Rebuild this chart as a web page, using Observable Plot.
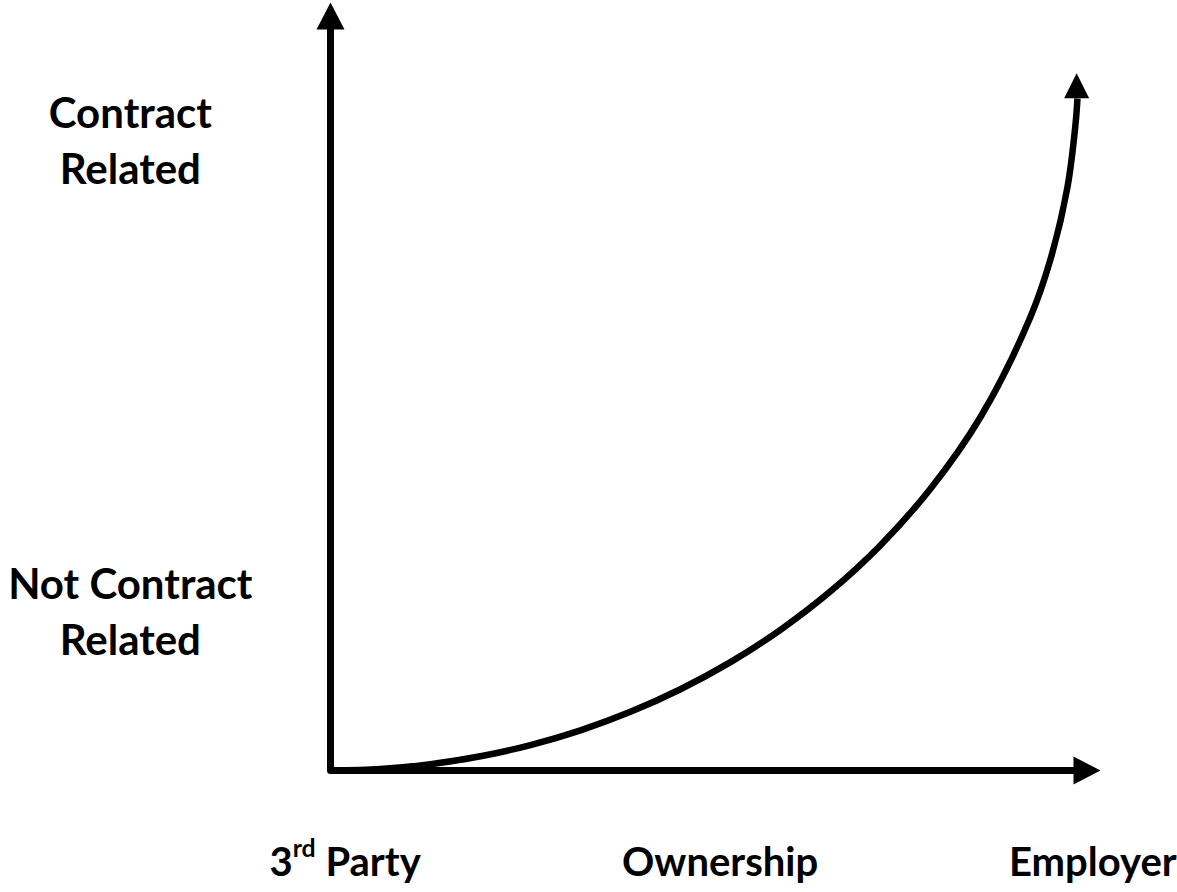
<!DOCTYPE html>
<html><head><meta charset="utf-8">
<script src="https://cdn.jsdelivr.net/npm/d3@7"></script>
<script src="https://cdn.jsdelivr.net/npm/@observablehq/plot@0.6"></script>
<style>body{margin:0;background:#fff;overflow:hidden}</style>
</head><body><div id="chart"></div>
<script>
// Curve values (x: 3rd Party -> Employer, y: Not Contract Related -> Contract Related), 0..100 scale
const curveX = [0, 6.49, 12.99, 19.48, 25.97, 32.47, 38.96, 45.45, 51.95, 58.44, 64.94, 71.43, 77.92, 84.42, 90.91, 93.51, 95.71, 96.75, 97.01];
const curveY = [0, 0.20, 0.82, 1.85, 3.31, 5.23, 7.64, 10.58, 14.11, 18.32, 23.33, 29.34, 36.69, 46.03, 59.07, 66.58, 75.96, 84.11, 87.5];
const curveTip = {x: 96.9, y: 90.8};

const yLabels = ["Contract\nRelated", "Not Contract\nRelated"];
const yLabelLevels = [88.8, 27.5];
const xLabels = ["3rd Party", "Ownership", "Employer"];
const xLabelPositions = [1.9, 50.6, 99.0];

const curve = curveX.map((x, i) => ({x, y: curveY[i]}));
const yLabelData = yLabels.map((t, i) => ({t, y: yLabelLevels[i]}));
const xLabelData = xLabels.map((t, i) => ({t, x: xLabelPositions[i]}));

const arrowUp = {draw(ctx) { ctx.moveTo(0, 0); ctx.lineTo(14, 27); ctx.lineTo(-14, 27); ctx.closePath(); }};
const arrowRight = {draw(ctx) { ctx.moveTo(0, 0); ctx.lineTo(-27, -14); ctx.lineTo(-27, 14); ctx.closePath(); }};
const arrowUpSmall = {draw(ctx) { ctx.moveTo(0, 0); ctx.lineTo(12.5, 25); ctx.lineTo(-12.5, 25); ctx.closePath(); }};

const axisPath = [{x: 0, y: 97}, {x: 0, y: 0}, {x: 97, y: 0}];

const font = "Lato, 'Open Sans', sans-serif";

const chart = Plot.plot({
  width: 1177,
  height: 892,
  marginLeft: 330,
  marginRight: 77,
  marginTop: 2,
  marginBottom: 122,
  x: {domain: [0, 100], axis: null},
  y: {domain: [0, 100], axis: null},
  style: {fontFamily: font, background: "white"},
  marks: [
    Plot.line(axisPath, {x: "x", y: "y", stroke: "black", strokeWidth: 7, strokeLinejoin: "round", strokeLinecap: "butt"}),
    Plot.dot([{x: 0, y: 100}], {x: "x", y: "y", symbol: arrowUp, fill: "black", stroke: null, r: 10}),
    Plot.dot([{x: 100, y: 0}], {x: "x", y: "y", symbol: arrowRight, fill: "black", stroke: null, r: 10}),
    Plot.line(curve, {x: "x", y: "y", curve: "catmull-rom", stroke: "black", strokeWidth: 6.5, strokeLinecap: "butt"}),
    Plot.dot([curveTip], {x: "x", y: "y", symbol: arrowUpSmall, fill: "black", stroke: null, r: 10}),
    Plot.text(yLabelData, {x: () => -26, y: "y", text: "t", textAnchor: "middle", lineAnchor: "top", lineHeight: 1.33, fontSize: 42, fontWeight: "bold", fill: "black"}),
    Plot.text(xLabelData, {x: "x", y: () => -10.0, text: "t", textAnchor: "middle", lineAnchor: "top", fontSize: 40, fontWeight: "bold", fill: "black"})
  ]
});

// superscript for ordinal "3rd"
d3.select(chart).selectAll("text").each(function() {
  const el = d3.select(this);
  if (el.text() === "3rd Party") {
    el.text(null);
    el.append("tspan").text("3");
    el.append("tspan").attr("font-size", "0.62em").attr("dy", "-0.75em").text("rd");
    el.append("tspan").attr("dy", "0.465em").text(" Party");
  }
});

document.getElementById("chart").appendChild(chart);
</script>
</body></html>
